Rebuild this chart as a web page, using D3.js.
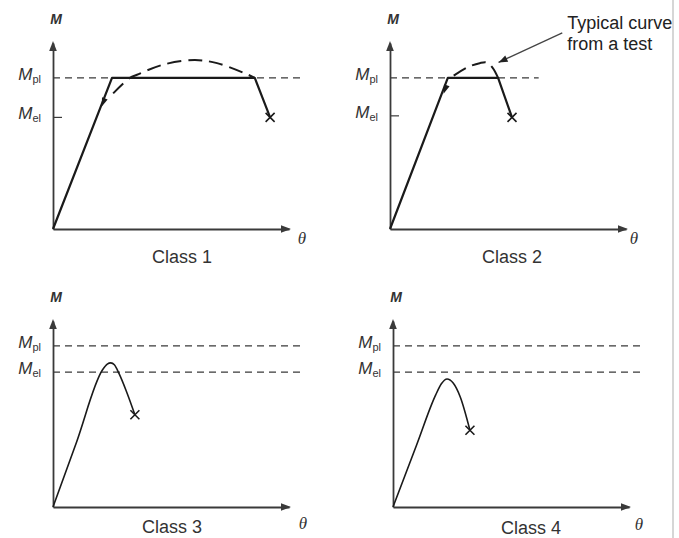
<!DOCTYPE html>
<html><head><meta charset="utf-8">
<script src="https://cdn.jsdelivr.net/npm/d3@7"></script>
<style>body{margin:0;background:#fff} svg{display:block}</style>
</head><body>
<svg id="chart" width="679" height="538"></svg>
<script>
// Moment–rotation behaviour of the four cross-section classes (θ along x, M along y)
const panelNames = ["Class 1", "Class 2", "Class 3", "Class 4"];
const thetaMax = 10, momentMax = 12;
const momentPlastic = [9.75, 9.75, 10.4, 10.4];
const momentElastic = [7.2, 7.3, 8.7, 8.7];

// idealised response, ending at failure (×)
const idealCurve1 = [[0, 0], [2.5, 9.75], [8.55, 9.75], [9.2, 7.2]];
const idealCurve2 = [[0, 0], [2.45, 9.75], [4.58, 9.75], [5.17, 7.2]];
const idealCurve3 = [[0, 0], [1.0, 4.2], [2.1, 8.85], [2.3, 9.22], [2.45, 9.3], [2.6, 9.18], [2.8, 8.6], [3.1, 7.5], [3.47, 5.95]];
const idealCurve4 = [[0, 0], [1.0, 4.0], [1.8, 7.2], [2.05, 7.95], [2.29, 8.26], [2.55, 8.0], [2.85, 7.1], [3.26, 4.95]];

// typical test curves (dashed) for the compact classes
const testCurve1 = [[2.55, 8.75], [3.26, 9.75], [3.56, 9.95], [4.66, 10.6], [6.0, 10.9], [6.95, 10.7], [8.2, 10.0], [8.55, 9.75]];
const testCurve2 = [[2.7, 9.9], [3.3, 10.45], [3.8, 10.7], [4.1, 10.74], [4.35, 10.4], [4.58, 9.75]];
const testArrow1 = [2.12, 8.13];
const testArrow2 = [2.33, 8.97];

const idealCurves = [idealCurve1, idealCurve2, idealCurve3, idealCurve4];
const testCurves = [testCurve1, testCurve2, null, null];
const testArrows = [testArrow1, testArrow2, null, null];
const smoothCurve = [false, false, true, true];
// Mel shown as a full dashed line (classes 3, 4) or just a tick (classes 1, 2)
const elasticFullLine = [false, false, true, true];
const plasticLineEnd = [10.5, 6.3, 10.5, 10.5];

// callout for the test curve in the class 2 panel
const calloutLines = ["Typical curve", "from a test"];
const calloutFrom = [7.3, 12.65];
const calloutTo = [4.6, 10.75];

// layout of the four panels: axis origin, title centre and θ label, in pixels
const origins = [[53, 229], [390, 229], [53, 507], [393, 507]];
const titlePos = [[182, 263], [512, 263], [172, 533], [531, 534]];
const thetaPos = [[302, 244], [634, 244], [303, 529], [639, 530]];
const axisW = 236, axisH = 186;

const svg = d3.select("#chart");
const ink = "#1a1a1a", axisInk = "#3a3a3a";
const sans = "'Liberation Sans', Arial, Helvetica, sans-serif";

// scan border on the right edge
svg.append("line").attr("x1", 673).attr("x2", 673).attr("y1", 0).attr("y2", 538)
  .attr("stroke", "#c9c9c9").attr("stroke-width", 1.5);

panelNames.forEach((name, i) => {
  const [ox, oy] = origins[i];
  const x = d3.scaleLinear().domain([0, thetaMax]).range([ox, ox + axisW]);
  const y = d3.scaleLinear().domain([0, momentMax]).range([oy, oy - axisH]);
  const g = svg.append("g");

  // reference levels
  g.append("line")
    .attr("x1", x(0)).attr("x2", x(plasticLineEnd[i]))
    .attr("y1", y(momentPlastic[i])).attr("y2", y(momentPlastic[i]))
    .attr("stroke", axisInk).attr("stroke-width", 1.2).attr("stroke-dasharray", "7,5");
  if (elasticFullLine[i]) {
    g.append("line")
      .attr("x1", x(0)).attr("x2", x(plasticLineEnd[i]))
      .attr("y1", y(momentElastic[i])).attr("y2", y(momentElastic[i]))
      .attr("stroke", axisInk).attr("stroke-width", 1.2).attr("stroke-dasharray", "7,5");
  } else {
    g.append("line")
      .attr("x1", x(0)).attr("x2", x(0) + 9)
      .attr("y1", y(momentElastic[i])).attr("y2", y(momentElastic[i]))
      .attr("stroke", axisInk).attr("stroke-width", 1.2);
  }

  // axes with arrowheads
  const xAxis = d3.axisBottom(x).tickValues([]).tickSizeOuter(0);
  const yAxis = d3.axisLeft(y).tickValues([]).tickSizeOuter(0);
  g.append("g").attr("transform", `translate(0,${oy})`).call(xAxis)
    .select(".domain").attr("stroke", axisInk).attr("stroke-width", 1.8);
  g.append("g").attr("transform", `translate(${ox},0)`).call(yAxis)
    .select(".domain").attr("stroke", axisInk).attr("stroke-width", 1.8);
  const xt = x(thetaMax), yt = y(momentMax);
  g.append("path").attr("d", `M${xt + 2},${oy} L${xt - 8},${oy - 3.8} L${xt - 8},${oy + 3.8} Z`).attr("fill", axisInk);
  g.append("path").attr("d", `M${ox},${yt - 2} L${ox - 3.8},${yt + 8} L${ox + 3.8},${yt + 8} Z`).attr("fill", axisInk);

  // idealised curve
  const line = d3.line().x(d => x(d[0])).y(d => y(d[1]))
    .curve(smoothCurve[i] ? d3.curveMonotoneX : d3.curveLinear);
  const curve = idealCurves[i];
  g.append("path").attr("d", line(curve)).attr("fill", "none")
    .attr("stroke", ink).attr("stroke-width", smoothCurve[i] ? 1.6 : 2.2)
    .attr("stroke-linejoin", "round");

  // failure mark
  const end = curve[curve.length - 1];
  const ex = x(end[0]), ey = y(end[1]), s = 4.5;
  g.append("path").attr("d", `M${ex - s},${ey - s} L${ex + s},${ey + s} M${ex - s},${ey + s} L${ex + s},${ey - s}`)
    .attr("stroke", ink).attr("stroke-width", 1.6);

  // test curve
  if (testCurves[i]) {
    const tline = d3.line().x(d => x(d[0])).y(d => y(d[1])).curve(d3.curveCatmullRom.alpha(0.5));
    g.append("path").attr("d", tline(testCurves[i])).attr("fill", "none")
      .attr("stroke", ink).attr("stroke-width", 2).attr("stroke-dasharray", "14,7");
    // small arrowhead on the loading branch, pointing back down it
    const a = testArrows[i];
    const ax = x(a[0]), ay = y(a[1]);
    const dx = x(0) - x(curve[1][0]), dy = y(0) - y(curve[1][1]);
    const len = Math.hypot(dx, dy), ux = dx / len, uy = dy / len;
    const px = -uy, py = ux;
    g.append("path")
      .attr("d", `M${ax + ux * 4},${ay + uy * 4} L${ax - ux * 5 + px * 3},${ay - uy * 5 + py * 3} L${ax - ux * 5 - px * 3},${ay - uy * 5 - py * 3} Z`)
      .attr("fill", ink);
  }

  // labels
  g.append("text").attr("x", ox + 3).attr("y", yt - 19).attr("text-anchor", "middle")
    .attr("font-family", sans).attr("font-style", "italic").attr("font-weight", "bold")
    .attr("font-size", 14).attr("fill", "#333").text("M");
  [["pl", momentPlastic[i]], ["el", momentElastic[i]]].forEach(([sub, v]) => {
    const t = g.append("text").attr("x", ox - 12).attr("y", y(v) + 2).attr("text-anchor", "end")
      .attr("font-family", sans).attr("fill", "#333");
    t.append("tspan").attr("font-style", "italic").attr("font-size", 17).text("M");
    t.append("tspan").attr("font-size", 11).attr("dy", 3).text(sub);
  });
  g.append("text").attr("x", thetaPos[i][0]).attr("y", thetaPos[i][1]).attr("text-anchor", "middle")
    .attr("font-family", "'Liberation Serif', 'Times New Roman', serif").attr("font-style", "italic")
    .attr("font-size", 17).attr("fill", "#333").text("θ");
  g.append("text").attr("x", titlePos[i][0]).attr("y", titlePos[i][1]).attr("text-anchor", "middle")
    .attr("font-family", sans).attr("font-size", 18).attr("fill", "#333").text(name);

  // callout
  if (i === 1) {
    const fx = x(calloutFrom[0]), fy = y(calloutFrom[1]);
    const tx = x(calloutTo[0]), ty = y(calloutTo[1]);
    g.append("line").attr("x1", fx).attr("y1", fy).attr("x2", tx).attr("y2", ty)
      .attr("stroke", "#444").attr("stroke-width", 1.3);
    const dx = tx - fx, dy = ty - fy, len = Math.hypot(dx, dy), ux = dx / len, uy = dy / len;
    g.append("path")
      .attr("d", `M${tx},${ty} L${tx - ux * 9 - uy * 3.5},${ty - uy * 9 + ux * 3.5} L${tx - ux * 9 + uy * 3.5},${ty - uy * 9 - ux * 3.5} Z`)
      .attr("fill", "#222");
    g.selectAll(".callout").data(calloutLines).join("text")
      .attr("x", fx + 5).attr("y", (d, k) => fy - 4 + k * 21)
      .attr("font-family", sans).attr("font-size", 18).attr("fill", "#222").text(d => d);
  }
});
</script>
</body></html>
